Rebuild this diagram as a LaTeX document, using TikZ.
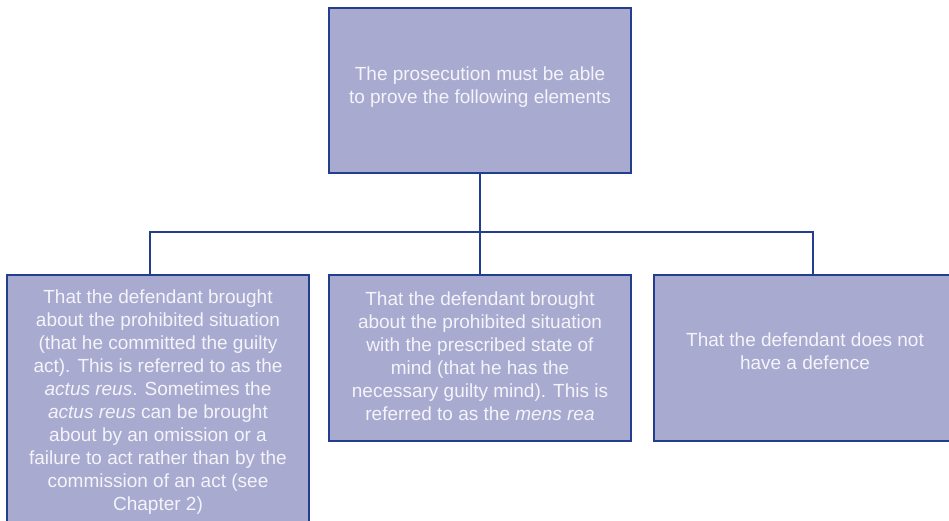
\documentclass[tikz,border=0pt]{standalone}
\usepackage{fontspec}
\setmainfont{Liberation Sans}
\definecolor{boxfill}{RGB}{168,170,208}
\definecolor{boxline}{RGB}{34,62,140}
\definecolor{boxtext}{RGB}{244,244,250}
\begin{document}
\begin{tikzpicture}[x=1pt,y=-1pt,
  box/.style={draw=boxline,fill=boxfill,line width=1.8pt,rectangle,inner sep=0pt},
  txt/.style={text=boxtext,align=center,inner sep=0pt,font=\fontsize{19}{23}\selectfont},
  conn/.style={draw=boxline,line width=1.8pt}]
\useasboundingbox (0,0) rectangle (949,521);
\clip (0,0) rectangle (949,521);
% boxes
\node[box,minimum width=302pt,minimum height=165pt] (top) at (480,90.5) {};
\node[box,minimum width=302pt,minimum height=280pt] (lft) at (158,415) {};
\node[box,minimum width=302pt,minimum height=166pt] (mid) at (480,358) {};
\node[box,minimum width=310pt,minimum height=166pt] (rgt) at (809,358) {};
% texts
\node[txt] (ttop) at (480,87) {The prosecution must be able\\to prove the following elements};
\node[txt] (tlft) at (158,402) {That the defendant brought\\about the prohibited situation\\(that he committed the guilty\\act). This is referred to as the\\\textit{actus reus}. Sometimes the\\\textit{actus reus} can be brought\\about by an omission or a\\failure to act rather than by the\\commission of an act (see\\Chapter 2)};
\node[txt] (tmid) at (480,356) {That the defendant brought\\about the prohibited situation\\with the prescribed state of\\mind (that he has the\\necessary guilty mind). This is\\referred to as the \textit{mens rea}};
\node[txt] (trgt) at (805,351) {That the defendant does not\\have a defence};
% connectors
\coordinate (j) at (480,232);
\coordinate (cl) at ([xshift=-8pt]lft.north);
\coordinate (cr) at ([xshift=4pt]rgt.north);
\draw[conn] (top.south) -- (j);
\draw[conn] (cl) |- (j) -| (cr);
\draw[conn] (j) -- (mid.north);
\end{tikzpicture}
\end{document}
